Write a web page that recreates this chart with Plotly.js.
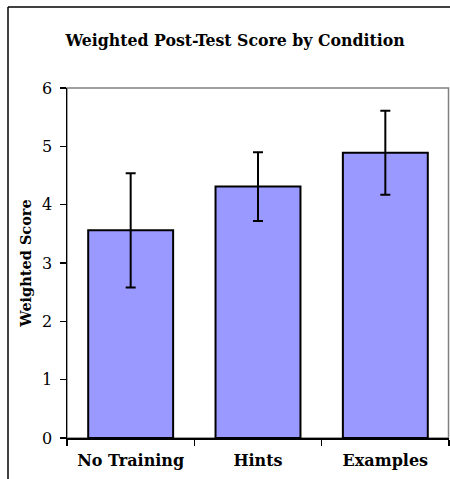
<!DOCTYPE html>
<html>
<head>
<meta charset="utf-8">
<script src="https://cdn.plot.ly/plotly-3.0.1.min.js"></script>
<style>html,body{margin:0;padding:0;background:#fff;}#chart{width:450px;height:479px;}</style>
</head>
<body>
<div id="chart"></div>
<script>
const categories = ["No Training", "Hints", "Examples"];
const scores = [3.56, 4.31, 4.89];
const errors = [0.98, 0.59, 0.72];
const yTicks = [0, 1, 2, 3, 4, 5, 6];

const serif = "DejaVu Serif";
const serifC = "DejaVu Serif Condensed, DejaVu Serif";

const trace = {
  type: "bar",
  x: categories,
  y: scores,
  marker: { color: "#9999ff", line: { color: "#000000", width: 2 } },
  error_y: { type: "data", array: errors, visible: true, color: "#000000", thickness: 2, width: 5 },
  hoverinfo: "none"
};

const L = 67, R = 1, T = 88, B = 41, W = 450, H = 479;
const pw = W - L - R, ph = H - T - B;
const px = v => (v - L) / pw;
const py = v => (H - B - v) / ph;

const layout = {
  width: W, height: H,
  margin: { l: L, r: R, t: T, b: B, pad: 0 },
  paper_bgcolor: "#ffffff",
  plot_bgcolor: "#ffffff",
  showlegend: false,
  bargap: 0.333,
  font: { family: serif, color: "#000000" },
  title: {
    text: "Weighted Post-Test Score by Condition",
    font: { family: serifC, size: 17.5, weight: "bold", color: "#000000" },
    x: 0.44, xanchor: "center", xref: "paper",
    y: 1 - 40 / H, yanchor: "middle", yref: "container"
  },
  xaxis: {
    type: "category",
    showline: true, linecolor: "#000000", linewidth: 2,
    ticks: "outside", tickson: "boundaries", ticklen: 6, tickwidth: 1.5, tickcolor: "#000000",
    tickfont: { family: serif, size: 16, weight: "bold", color: "#000000" },
    ticklabelstandoff: 7,
    showgrid: false, zeroline: false, fixedrange: true
  },
  yaxis: {
    range: [0, 6],
    tickvals: yTicks,
    ticktext: yTicks.map(String),
    showline: true, linecolor: "#000000", linewidth: 1.5,
    ticks: "outside", ticklen: 6, tickwidth: 1.5, tickcolor: "#000000",
    tickfont: { family: serif, size: 16, color: "#000000" },
    ticklabelstandoff: 4,
    showgrid: false, zeroline: false, fixedrange: true,
    title: { text: "Weighted Score", font: { family: serif, size: 14.5, weight: "bold", color: "#000000" }, standoff: 7 }
  },
  shapes: [
    { type: "rect", xref: "paper", yref: "paper", x0: 0, x1: px(448.5), y0: 0, y1: 1,
      line: { color: "#808080", width: 1.5 }, layer: "below" },
    { type: "line", xref: "paper", yref: "paper", x0: px(8), x1: px(8), y0: py(7), y1: py(490),
      line: { color: "#000000", width: 1.5 } },
    { type: "line", xref: "paper", yref: "paper", x0: px(8), x1: px(460), y0: py(7), y1: py(7),
      line: { color: "#000000", width: 1.5 } }
  ]
};

Plotly.newPlot("chart", [trace], layout, { staticPlot: true, displayModeBar: false });
</script>
</body>
</html>
